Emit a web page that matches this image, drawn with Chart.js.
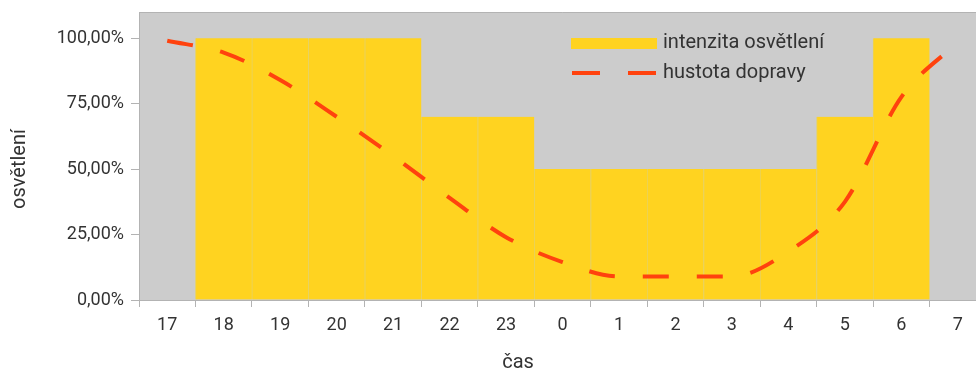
<!DOCTYPE html>
<html>
<head>
<meta charset="utf-8">
<script src="https://cdn.jsdelivr.net/npm/chart.js@4"></script>
<style>
    html, body { margin: 0; padding: 0; background: #fff; overflow: hidden; }
    #wrap { width: 990px; height: 372px; }
</style>
</head>
<body>
<div id="wrap"><canvas id="lightChart"></canvas></div>
<script>
// hodiny (kategorie)
const hours = ['17', '18', '19', '20', '21', '22', '23', '0', '1', '2', '3', '4', '5', '6', '7'];
// intenzita osvětlení v %
const lightValues = [0, 100, 100, 100, 100, 70, 70, 50, 50, 50, 50, 50, 70, 100, 0];
// hustota dopravy v %
const trafficValues = [99, 94.5, 84, 70, 55, 39, 24, 14.5, 9, 9, 9, 18.5, 37.5, 77.5, 98.5];
// popisky osy y
const yTicks = [0, 25, 50, 75, 100];

const textColor = '#333333';
const axisColor = '#b3b3b3';
const yellow = '#ffd320';
const orange = '#ff420e';

// grey plot background + top frame line
const plotBackground = {
    id: 'plotBackground',
    beforeDraw(chart) {
        const { ctx, chartArea: a } = chart;
        ctx.save();
        ctx.fillStyle = '#cccccc';
        ctx.fillRect(a.left, a.top, a.right - a.left, a.bottom - a.top);
        ctx.strokeStyle = axisColor;
        ctx.lineWidth = 1;
        ctx.beginPath();
        ctx.moveTo(a.left, a.top + 0.5);
        ctx.lineTo(a.right, a.top + 0.5);
        ctx.stroke();
        ctx.restore();
    }
};

// legend inside the plot area + axis titles (they are not centred on the plot in the original)
const innerLegend = {
    id: 'innerLegend',
    afterDraw(chart) {
        const ctx = chart.ctx;
        const x = 571, w = 86;
        ctx.save();
        ctx.fillStyle = yellow;
        ctx.fillRect(x, 38, w, 11);

        ctx.strokeStyle = orange;
        ctx.lineWidth = 4;
        ctx.setLineDash([28, 28]);
        ctx.beginPath();
        ctx.moveTo(x + 1, 73);
        ctx.lineTo(x + w, 73);
        ctx.stroke();
        ctx.setLineDash([]);

        ctx.fillStyle = textColor;
        ctx.font = '20px Roboto';
        ctx.textBaseline = 'middle';
        ctx.fillText(chart.data.datasets[1].label, x + 92, 43);
        ctx.fillText(chart.data.datasets[0].label, x + 92, 73);

        ctx.textAlign = 'center';
        ctx.fillText('čas', 518, 363);
        ctx.translate(20, 169);
        ctx.rotate(-Math.PI / 2);
        ctx.fillText('osvětlení', 0, 0);
        ctx.restore();
    }
};

document.addEventListener('DOMContentLoaded', function() {
    const ctx = document.getElementById('lightChart').getContext('2d');
    const chart = new Chart(ctx, {
        data: {
            labels: hours,
            datasets: [{
                type: 'line',
                label: 'hustota dopravy',
                data: trafficValues,
                borderColor: orange,
                borderWidth: 4,
                borderDash: [26, 28],
                borderCapStyle: 'butt',
                pointRadius: 0,
                cubicInterpolationMode: 'monotone',
                fill: false,
                order: 0
            }, {
                type: 'bar',
                label: 'intenzita osvětlení',
                data: lightValues,
                backgroundColor: yellow,
                borderColor: '#e9d35a',
                borderWidth: { left: 1, right: 0, top: 0, bottom: 0 },
                borderSkipped: false,
                barPercentage: 1,
                categoryPercentage: 1,
                order: 1
            }]
        },
        options: {
            responsive: true,
            maintainAspectRatio: false,
            animation: false,
            layout: {
                padding: { top: 12, right: 4, bottom: 0, left: 0 }
            },
            plugins: {
                legend: { display: false },
                tooltip: { enabled: false }
            },
            scales: {
                x: {
                    grid: {
                        drawOnChartArea: false,
                        tickLength: 7,
                        color: axisColor
                    },
                    border: { color: axisColor },
                    ticks: {
                        color: textColor,
                        font: { family: 'Roboto', size: 18 },
                        padding: 8,
                        maxRotation: 0
                    },
                    afterFit(scale) {
                        scale.height = 72;
                        scale.paddingLeft = 0;
                        scale.paddingRight = 0;
                    }
                },
                y: {
                    min: 0,
                    max: 110,
                    grid: {
                        drawOnChartArea: false,
                        tickLength: 8,
                        color: axisColor
                    },
                    border: { color: axisColor },
                    afterBuildTicks(scale) {
                        scale.ticks = yTicks.map(v => ({ value: v }));
                    },
                    ticks: {
                        color: textColor,
                        font: { family: 'Roboto', size: 18 },
                        padding: 7,
                        callback: v => v.toFixed(2).replace('.', ',') + '%'
                    },
                    afterFit(scale) {
                        scale.width = 139;
                        scale.paddingTop = 0;
                        scale.paddingBottom = 0;
                    }
                }
            }
        },
        plugins: [plotBackground, innerLegend]
    });
});
</script>
</body>
</html>
